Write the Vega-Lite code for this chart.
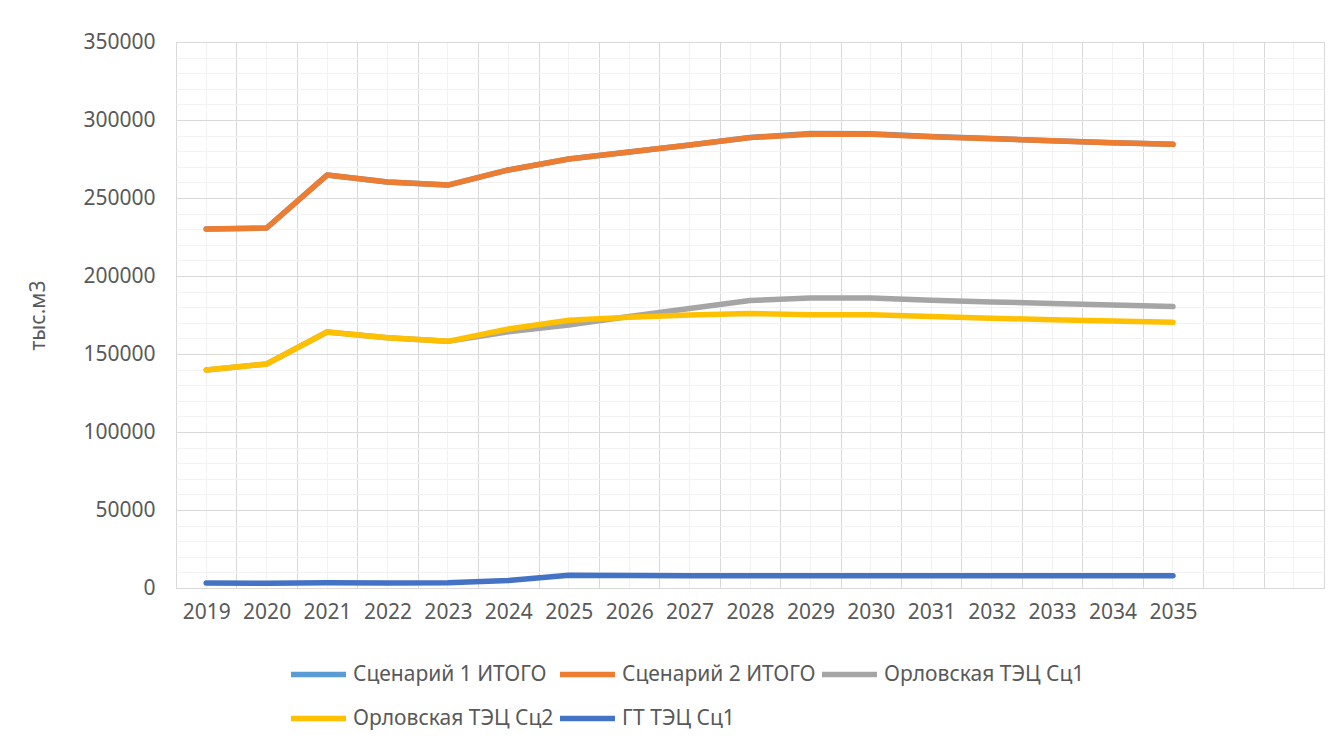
{
  "$schema": "https://vega.github.io/schema/vega-lite/v6.json",
  "width": 1148,
  "height": 546,
  "autosize": {"type": "none"},
  "padding": {"left": 176, "top": 42, "right": 20, "bottom": 157},
  "background": "white",
  "config": {
    "view": {"stroke": "#d9d9d9", "strokeWidth": 1},
    "font": "Noto Sans"
  },
  "data": {
    "values": [
      {"year": "2019", "Сценарий 1 ИТОГО": 230100, "Сценарий 2 ИТОГО": 230100, "Орловская ТЭЦ Сц1": 139700, "Орловская ТЭЦ Сц2": 139700, "ГТ ТЭЦ Сц1": 3200},
      {"year": "2020", "Сценарий 1 ИТОГО": 230800, "Сценарий 2 ИТОГО": 230800, "Орловская ТЭЦ Сц1": 143600, "Орловская ТЭЦ Сц2": 143600, "ГТ ТЭЦ Сц1": 3000},
      {"year": "2021", "Сценарий 1 ИТОГО": 264700, "Сценарий 2 ИТОГО": 264700, "Орловская ТЭЦ Сц1": 164100, "Орловская ТЭЦ Сц2": 164100, "ГТ ТЭЦ Сц1": 3300},
      {"year": "2022", "Сценарий 1 ИТОГО": 260300, "Сценарий 2 ИТОГО": 260300, "Орловская ТЭЦ Сц1": 160400, "Орловская ТЭЦ Сц2": 160400, "ГТ ТЭЦ Сц1": 3200},
      {"year": "2023", "Сценарий 1 ИТОГО": 258300, "Сценарий 2 ИТОГО": 258300, "Орловская ТЭЦ Сц1": 158100, "Орловская ТЭЦ Сц2": 158100, "ГТ ТЭЦ Сц1": 3400},
      {"year": "2024", "Сценарий 1 ИТОГО": 268000, "Сценарий 2 ИТОГО": 268000, "Орловская ТЭЦ Сц1": 164300, "Орловская ТЭЦ Сц2": 166000, "ГТ ТЭЦ Сц1": 4800},
      {"year": "2025", "Сценарий 1 ИТОГО": 275000, "Сценарий 2 ИТОГО": 275000, "Орловская ТЭЦ Сц1": 168600, "Орловская ТЭЦ Сц2": 171600, "ГТ ТЭЦ Сц1": 8100},
      {"year": "2026", "Сценарий 1 ИТОГО": 279500, "Сценарий 2 ИТОГО": 279500, "Орловская ТЭЦ Сц1": 174000, "Орловская ТЭЦ Сц2": 173600, "ГТ ТЭЦ Сц1": 8000},
      {"year": "2027", "Сценарий 1 ИТОГО": 284000, "Сценарий 2 ИТОГО": 284000, "Орловская ТЭЦ Сц1": 179200, "Орловская ТЭЦ Сц2": 175000, "ГТ ТЭЦ Сц1": 7900},
      {"year": "2028", "Сценарий 1 ИТОГО": 288800, "Сценарий 2 ИТОГО": 288700, "Орловская ТЭЦ Сц1": 184300, "Орловская ТЭЦ Сц2": 176000, "ГТ ТЭЦ Сц1": 7900},
      {"year": "2029", "Сценарий 1 ИТОГО": 291300, "Сценарий 2 ИТОГО": 290900, "Орловская ТЭЦ Сц1": 185900, "Орловская ТЭЦ Сц2": 175200, "ГТ ТЭЦ Сц1": 7900},
      {"year": "2030", "Сценарий 1 ИТОГО": 291200, "Сценарий 2 ИТОГО": 290800, "Орловская ТЭЦ Сц1": 185900, "Орловская ТЭЦ Сц2": 175200, "ГТ ТЭЦ Сц1": 7900},
      {"year": "2031", "Сценарий 1 ИТОГО": 289500, "Сценарий 2 ИТОГО": 289300, "Орловская ТЭЦ Сц1": 184500, "Орловская ТЭЦ Сц2": 174000, "ГТ ТЭЦ Сц1": 7900},
      {"year": "2032", "Сценарий 1 ИТОГО": 288100, "Сценарий 2 ИТОГО": 288000, "Орловская ТЭЦ Сц1": 183400, "Орловская ТЭЦ Сц2": 172900, "ГТ ТЭЦ Сц1": 7900},
      {"year": "2033", "Сценарий 1 ИТОГО": 286700, "Сценарий 2 ИТОГО": 286700, "Орловская ТЭЦ Сц1": 182400, "Орловская ТЭЦ Сц2": 172000, "ГТ ТЭЦ Сц1": 7900},
      {"year": "2034", "Сценарий 1 ИТОГО": 285400, "Сценарий 2 ИТОГО": 285400, "Орловская ТЭЦ Сц1": 181400, "Орловская ТЭЦ Сц2": 171100, "ГТ ТЭЦ Сц1": 7900},
      {"year": "2035", "Сценарий 1 ИТОГО": 284400, "Сценарий 2 ИТОГО": 284400, "Орловская ТЭЦ Сц1": 180400, "Орловская ТЭЦ Сц2": 170300, "ГТ ТЭЦ Сц1": 7900}
    ]
  },
  "transform": [
    {"fold": ["Сценарий 1 ИТОГО", "Сценарий 2 ИТОГО", "Орловская ТЭЦ Сц1", "Орловская ТЭЦ Сц2", "ГТ ТЭЦ Сц1"], "as": ["series", "value"]}
  ],
  "layer": [
    {
      "mark": {"type": "line", "opacity": 0},
      "encoding": {
        "x": {
          "field": "year", "type": "ordinal", "bandPosition": 0.5,
          "scale": {"type": "band", "domain": ["2019","2020","2021","2022","2023","2024","2025","2026","2027","2028","2029","2030","2031","2032","2033","2034","2035","x1","x2"], "paddingInner": 0, "paddingOuter": 0},
          "axis": {"orient": "top", "grid": true, "gridColor": "#f2f2f2", "gridWidth": 1, "bandPosition": 0.5, "labels": false, "ticks": false, "domain": false, "title": null}
        },
        "y": {
          "field": "value", "type": "quantitative",
          "scale": {"domain": [0, 350000], "nice": false, "zero": true},
          "axis": {"orient": "right", "values": [10000,20000,30000,40000,60000,70000,80000,90000,110000,120000,130000,140000,160000,170000,180000,190000,210000,220000,230000,240000,260000,270000,280000,290000,310000,320000,330000,340000], "grid": true, "gridColor": "#f2f2f2", "gridWidth": 1, "labels": false, "ticks": false, "domain": false, "title": null}
        }
      }
    },
    {
      "mark": {"type": "line", "strokeWidth": 5.5, "strokeCap": "round", "strokeJoin": "round"},
      "encoding": {
        "x": {
          "field": "year", "type": "ordinal", "bandPosition": 0.5,
          "scale": {"type": "band", "domain": ["2019","2020","2021","2022","2023","2024","2025","2026","2027","2028","2029","2030","2031","2032","2033","2034","2035","x1","x2"], "paddingInner": 0, "paddingOuter": 0},
          "axis": {"orient": "bottom", "grid": true, "gridColor": "#d9d9d9", "gridWidth": 1, "tickBand": "extent", "ticks": false, "tickSize": 0, "domain": false, "labelAngle": 0, "labelFontSize": 21, "labelColor": "#595959", "labelPadding": 13, "labelExpr": "indexof(datum.label, 'x') >= 0 ? '' : datum.label", "title": null}
        },
        "y": {
          "field": "value", "type": "quantitative",
          "scale": {"domain": [0, 350000], "nice": false, "zero": true},
          "axis": {"orient": "left", "values": [0,50000,100000,150000,200000,250000,300000,350000], "grid": true, "gridColor": "#d9d9d9", "gridWidth": 1, "ticks": false, "tickSize": 0, "domain": false, "labelFontSize": 21, "labelColor": "#595959", "labelPadding": 21, "format": "d",
            "title": "тыс.м3", "titleFontSize": 21, "titleFontWeight": "normal", "titleColor": "#595959", "titleX": -138, "titleY": 273, "titleAngle": 270, "titleAlign": "center", "titleBaseline": "middle"}
        },
        "color": {
          "field": "series", "type": "nominal",
          "scale": {"domain": ["Сценарий 1 ИТОГО", "Сценарий 2 ИТОГО", "Орловская ТЭЦ Сц1", "Орловская ТЭЦ Сц2", "ГТ ТЭЦ Сц1"], "range": ["#5b9bd5", "#ed7d31", "#a5a5a5", "#ffc000", "#4472c4"]},
          "legend": {"orient": "none", "legendX": 112, "legendY": 602, "direction": "horizontal", "columns": 3, "gridAlign": "none", "title": null, "symbolType": "stroke", "symbolSize": 3025, "symbolStrokeWidth": 5.5, "labelFontSize": 21, "labelColor": "#595959", "labelOffset": 4, "columnPadding": -5, "rowPadding": 2, "labelLimit": 400}
        }
      }
    }
  ],
  "resolve": {"axis": {"x": "independent", "y": "independent"}}
}
